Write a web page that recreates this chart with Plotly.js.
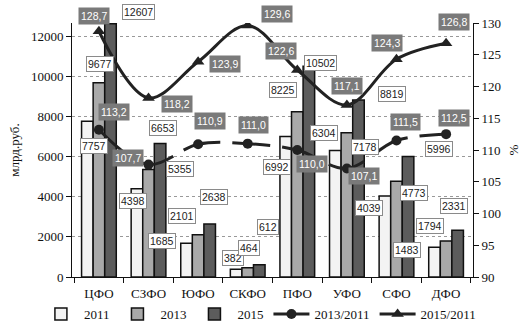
<!DOCTYPE html>
<html><head><meta charset="utf-8">
<script src="https://cdn.plot.ly/plotly-3.0.1.min.js"></script>
<style>html,body{margin:0;padding:0;background:#fff}#c{width:529px;height:324px}</style>
</head><body><div id="c"></div>
<script>
const categories = ['ЦФО','СЗФО','ЮФО','СКФО','ПФО','УФО','СФО','ДФО'];
const v2011 = [7757,4398,1685,382,6992,6304,4039,1483];
const v2013 = [9677,5355,2101,464,8225,7178,4773,1794];
const v2015 = [12607,6653,2638,612,10502,8819,5996,2331];
const r2013 = [113.2,107.7,110.9,111.0,110.0,107.1,111.5,112.5];
const r2015 = [128.7,118.2,123.9,129.6,122.6,117.1,124.3,126.8];
const seriesNames = ['2011','2013','2015','2013/2011','2015/2011'];

// label offsets in pixels [xshift, yshift] relative to category center / value
const off2011 = [[-5,-25],[-16,-12],[-36,2],[-15,11],[-20,-30],[-23,17],[-27,-12],[-39,-3]];
const off2013 = [[1,19],[31,0],[-16,19],[1,20],[-14,22],[18,-14],[18,-12],[-16,15]];
const off2015 = [[40,12],[14,15],[16,27],[20,38],[23,3],[45,6],[43,8],[8,24]];
const offR13 = [[15,18],[-21,7],[12,23],[6,19],[15,-14],[17,-8],[9,18],[8,16]];
const offR15 = [[-5,15],[28,-6],[27,-2],[29,12],[-16,19],[0,19],[-9,16],[8,21]];

const serif = 'Liberation Serif, Times New Roman, serif';
const sans = 'Liberation Sans, Arial, sans-serif';
const barLine = {color:'#111', width:1.5};

const traces = [
  {type:'bar', name:seriesNames[0], x:categories, y:v2011, marker:{color:'#f3f3f3', line:barLine}},
  {type:'bar', name:seriesNames[1], x:categories, y:v2013, marker:{color:'#a9a9a9', line:barLine}},
  {type:'bar', name:seriesNames[2], x:categories, y:v2015, marker:{color:'#5c5c5c', line:barLine}},
  {type:'scatter', mode:'lines+markers', name:seriesNames[3], x:categories, y:r2013, yaxis:'y2',
   line:{color:'#222', width:3, dash:'38px,12px', shape:'spline', smoothing:1},
   marker:{symbol:'circle', size:10, color:'#222'}},
  {type:'scatter', mode:'lines+markers', name:seriesNames[4], x:categories, y:r2015, yaxis:'y2',
   line:{color:'#222', width:3, shape:'spline', smoothing:1},
   marker:{symbol:'triangle-up', size:11, color:'#222'}}
];

const ann = [];
function barLab(vals, offs){
  vals.forEach((v,i)=>ann.push({x:categories[i], y:v, xref:'x', yref:'y', text:String(v),
    showarrow:false, xshift:offs[i][0], yshift:offs[i][1],
    font:{family:sans, size:10.5, color:'#222'}, bgcolor:'#fff', bordercolor:'#8a8a8a', borderwidth:1, borderpad:1}));
}
function ratioLab(vals, offs){
  vals.forEach((v,i)=>ann.push({x:categories[i], y:v, xref:'x', yref:'y2', text:v.toFixed(1).replace('.',','),
    showarrow:false, xshift:offs[i][0], yshift:offs[i][1],
    font:{family:sans, size:10.5, color:'#fff'}, bgcolor:'#7a7a7a', borderpad:2}));
}
barLab(v2011, off2011); barLab(v2013, off2013); barLab(v2015, off2015);
ratioLab(r2013, offR13); ratioLab(r2015, offR15);

const layout = {
  width:529, height:324,
  margin:{l:72, r:56, t:23, b:47, autoexpand:false},
  paper_bgcolor:'#fff', plot_bgcolor:'#fff',
  barmode:'group', bargap:0.3, bargroupgap:0,
  showlegend:true,
  legend:{orientation:'h', x:-0.085, xanchor:'left', y:-0.205, yanchor:'bottom',
          font:{family:serif, size:13, color:'#111'}, traceorder:'normal', itemwidth:36,
          bgcolor:'rgba(0,0,0,0)'},
  xaxis:{type:'category', showline:true, linecolor:'#111', linewidth:1, automargin:false,
         ticks:'outside', tickson:'boundaries', ticklen:5, tickcolor:'#111', ticklabelstandoff:4,
         tickfont:{family:serif, size:13, color:'#111'}, showgrid:false, zeroline:false},
  yaxis:{range:[0,12650], tickvals:[0,2000,4000,6000,8000,10000,12000], showline:true, linecolor:'#111', linewidth:1,
         ticks:'outside', ticklen:5, tickcolor:'#111', tickformat:'d', automargin:false,
         tickfont:{family:serif, size:13, color:'#111'},
         showgrid:true, gridcolor:'#999', griddash:'dot', gridwidth:1, zeroline:false,
         title:{text:'млрд.руб.', font:{family:serif, size:13, color:'#111'}, standoff:8}},
  yaxis2:{range:[90,130], dtick:5, overlaying:'y', side:'right', showline:true, linecolor:'#111', linewidth:1,
          ticks:'outside', ticklen:5, tickcolor:'#111', showgrid:false, zeroline:false, automargin:false,
          tickfont:{family:serif, size:13, color:'#111'},
          title:{text:'%', font:{family:serif, size:13, color:'#111'}, standoff:8}},
  annotations:ann
};
Plotly.newPlot('c', traces, layout, {displayModeBar:false, staticPlot:true});
</script></body></html>
